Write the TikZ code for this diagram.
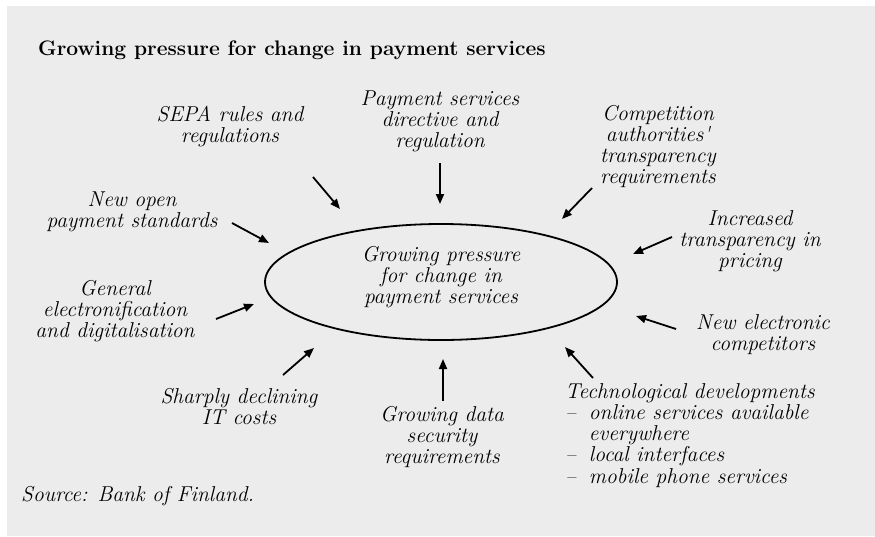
\documentclass[tikz,border=0pt]{standalone}
\usepackage{fontspec}
\usetikzlibrary{arrows.meta, shapes.geometric}
\definecolor{panelgrey}{HTML}{ECECEC}
\tikzset{
  cause/.style={font=\itshape\fontsize{21.5}{21}\selectfont, align=center, anchor=base, inner sep=0pt},
  push/.style={-{Triangle[length=10pt,width=8pt]}, line width=1.8pt},
}

\begin{document}
\begin{tikzpicture}[x=1pt,y=-1pt]
  \useasboundingbox (0,0) rectangle (875,536);
  \fill[panelgrey] (7,6) rectangle (875,536);

  \node[anchor=base west, inner sep=0pt, font=\bfseries\fontsize{21}{21}\selectfont] (title) at (38,55) {Growing pressure for change in payment services};

  % centre (labels are placed at the baseline of their last line)
  \node[ellipse, draw, line width=1.8pt, minimum width=352pt, minimum height=116pt, inner sep=0pt] (press) at (441,282) {};
  \node[cause] (presslabel) at (441,303) {Growing pressure\\for change in\\payment services};

  % pressures
  \node[cause] (sepa) at (230,142) {SEPA rules and\\regulations};
  \node[cause] (psd) at (440,147) {Payment services\\directive and\\regulation};
  \node[cause] (comp) at (658,183) {Competition\\authorities\textquotesingle\\transparency\\requirements};
  \node[cause] (incr) at (750,267) {Increased\\transparency in\\pricing};
  \node[cause] (newcomp) at (763,350) {New electronic\\competitors};
  \node[cause] (datasec) at (442,463) {Growing data\\security\\requirements};
  \node[cause] (itcost) at (239,424) {Sharply declining\\IT costs};
  \node[cause] (digit) at (115,337) {General\\electronification\\and digitalisation};
  \node[cause] (openstd) at (132,227) {New open\\payment standards};
  \node[cause, anchor=base west] (tech) at (565,398) {\begin{tabular}[t]{@{}l@{\hspace{13pt}}l@{}}
    \multicolumn{2}{@{}l@{}}{Technological developments}\\
    -- & online services available\\
       & everywhere\\
    -- & local interfaces\\
    -- & mobile phone services
  \end{tabular}};

  \node[cause, anchor=base west] (source) at (21,501) {Source: Bank of Finland.};

  % arrow ends
  \coordinate (sepa-t) at (313,177);    \coordinate (sepa-h) at (340,209);
  \coordinate (psd-t) at (440,163);     \coordinate (psd-h) at (440,204);
  \coordinate (comp-t) at (592,188);    \coordinate (comp-h) at (562,219);
  \coordinate (incr-t) at (672,237);    \coordinate (incr-h) at (633,254);
  \coordinate (newcomp-t) at (676,329); \coordinate (newcomp-h) at (636,316);
  \coordinate (tech-t) at (593,378);    \coordinate (tech-h) at (565,347);
  \coordinate (datasec-t) at (443,401); \coordinate (datasec-h) at (443,359);
  \coordinate (itcost-t) at (283,375);  \coordinate (itcost-h) at (314,348);
  \coordinate (digit-t) at (216,319);   \coordinate (digit-h) at (254,304);
  \coordinate (openstd-t) at (232,223); \coordinate (openstd-h) at (269,243);

  \draw[push] (sepa-t) -- (sepa-h);
  \draw[push] (psd-t) -- (psd-h);
  \draw[push] (comp-t) -- (comp-h);
  \draw[push] (incr-t) -- (incr-h);
  \draw[push] (newcomp-t) -- (newcomp-h);
  \draw[push] (tech-t) -- (tech-h);
  \draw[push] (datasec-t) -- (datasec-h);
  \draw[push] (itcost-t) -- (itcost-h);
  \draw[push] (digit-t) -- (digit-h);
  \draw[push] (openstd-t) -- (openstd-h);
\end{tikzpicture}
\end{document}
